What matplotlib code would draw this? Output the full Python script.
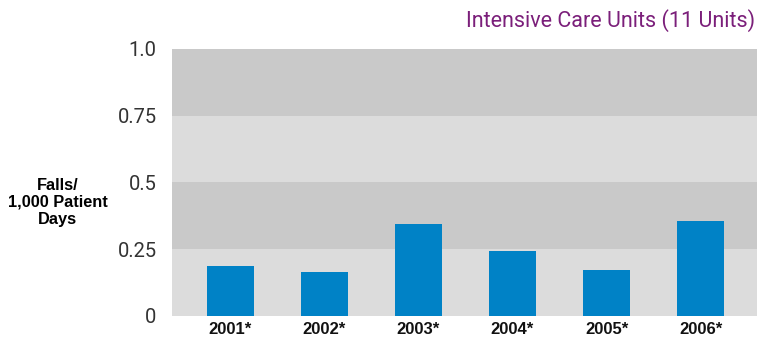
import matplotlib.pyplot as plt

years = ["2001*", "2002*", "2003*", "2004*", "2005*", "2006*"]
falls = [0.187, 0.165, 0.345, 0.243, 0.172, 0.356]
yticks = [0, 0.25, 0.5, 0.75, 1.0]
ytick_labels = ["0", "0.25", "0.5", "0.75", "1.0"]

fig = plt.figure(figsize=(7.57, 3.40), dpi=100)
ax = fig.add_axes([0.2272, 0.0706, 0.7728, 0.7853])

# alternating background bands
band_colors = ["#dcdcdc", "#c9c9c9", "#dcdcdc", "#c9c9c9"]
for lo, hi, c in zip(yticks[:-1], yticks[1:], band_colors):
    ax.axhspan(lo, hi, color=c, zorder=0, lw=0)

x = range(len(years))
ax.bar(x, falls, width=0.5, color="#0082c6", zorder=2)

ax.set_xlim(-0.62, 5.6)
ax.set_ylim(0, 1.0)
ax.set_yticks(yticks)
ax.set_yticklabels(ytick_labels, family="Roboto", fontsize=14.5, color="#333333")
ax.set_xticks(list(x))
ax.set_xticklabels(years, family="Liberation Sans", fontweight="bold",
                   fontsize=12, color="#111111")
ax.tick_params(axis="y", length=0, pad=11)
ax.tick_params(axis="x", length=0, pad=4)
for s in ax.spines.values():
    s.set_visible(False)

fig.text(0.076, 0.405, "Falls/\n1,000 Patient\nDays", ha="center", va="center",
         family="Liberation Sans", fontsize=11.8, fontweight="bold", linespacing=1.15)
fig.text(0.998, 0.94, "Intensive Care Units (11 Units)", ha="right", va="center",
         family="Roboto", fontsize=15.5, color="#7b1f7a")

fig.savefig("out.png", dpi=100)
